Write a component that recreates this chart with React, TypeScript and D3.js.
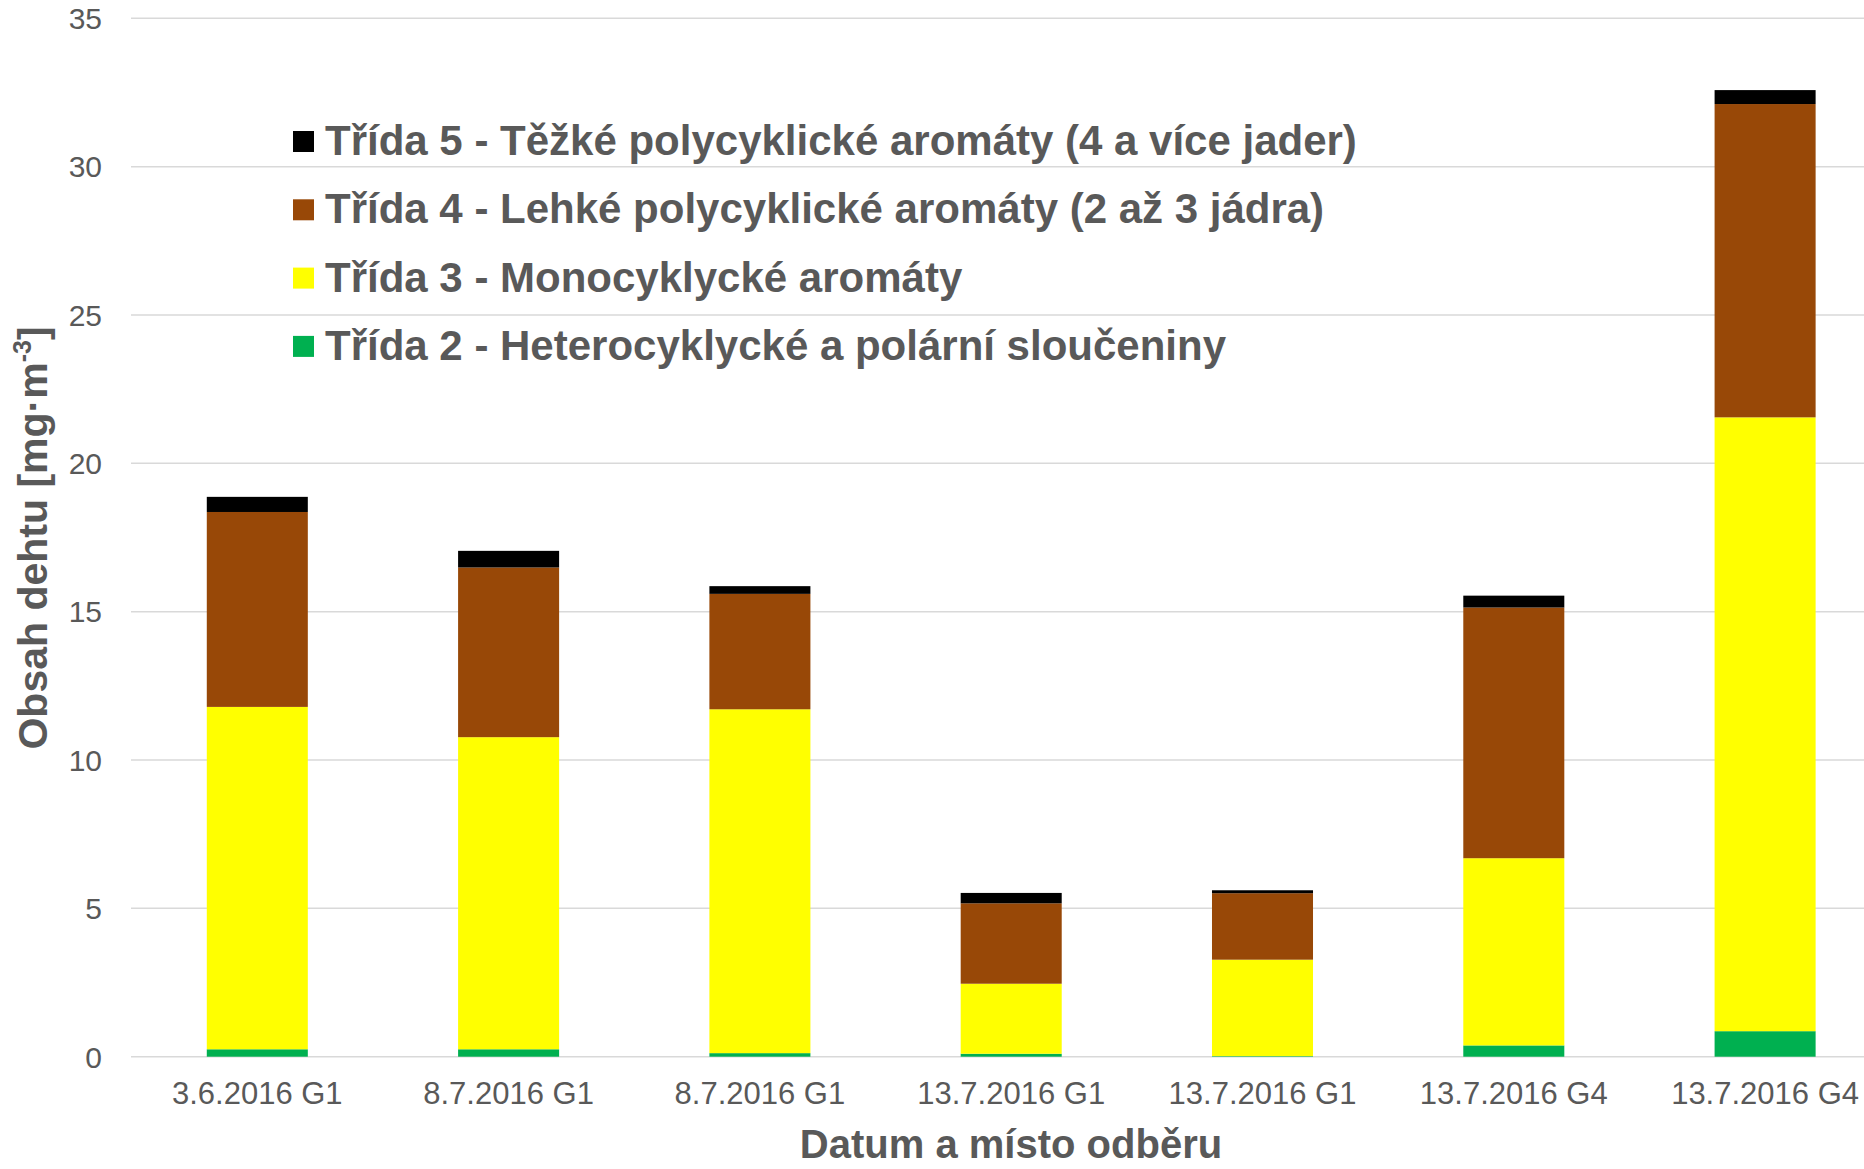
import React from "react";
import * as d3 from "d3";

const categories = [
  "3.6.2016 G1",
  "8.7.2016 G1",
  "8.7.2016 G1",
  "13.7.2016 G1",
  "13.7.2016 G1",
  "13.7.2016 G4",
  "13.7.2016 G4",
];

const trida2 = [0.25, 0.25, 0.12, 0.1, 0.02, 0.38, 0.86];
const trida3 = [11.54, 10.52, 11.59, 2.36, 3.25, 6.31, 20.69];
const trida4 = [6.57, 5.72, 3.89, 2.71, 2.24, 8.45, 10.56];
const trida5 = [0.51, 0.56, 0.26, 0.35, 0.1, 0.4, 0.47];

const yTicks = [0, 5, 10, 15, 20, 25, 30, 35];

const seriesNames = [
  "Třída 2 - Heterocyklycké a polární sloučeniny",
  "Třída 3 - Monocyklycké aromáty",
  "Třída 4 - Lehké polycyklické aromáty (2 až 3 jádra)",
  "Třída 5 - Těžké polycyklické aromáty (4 a více jader)",
];
const seriesColors = ["#00B050", "#FFFF00", "#984807", "#000000"];

const W = 1864;
const H = 1169;
const FONT = "'Liberation Sans', Arial, sans-serif";
const TEXT = "#595959";

export default function App() {
  const keys = ["t2", "t3", "t4", "t5"];
  const rows = categories.map((c, i) => ({
    idx: String(i),
    t2: trida2[i],
    t3: trida3[i],
    t4: trida4[i],
    t5: trida5[i],
  }));
  const stacked = d3.stack<any>().keys(keys)(rows);

  const x = d3
    .scaleBand<string>()
    .domain(rows.map((r) => r.idx))
    .range([131.65, 131.65 + 7 * 251.3])
    .padding(0);
  const step = x.step();
  const bw = step * 0.402;
  const y = d3.scaleLinear().domain([0, 35]).range([1056.7, 18.3]);

  const legendOrder = [3, 2, 1, 0];

  return (
    <svg
      width={W}
      height={H}
      style={{ position: "absolute", left: 0, top: 0, background: "#fff" }}
      fontFamily={FONT}
    >
      <rect x={0} y={0} width={W} height={H} fill="#fff" />
      {yTicks.map((t) => (
        <g key={t}>
          <line
            x1={131}
            x2={W}
            y1={y(t)}
            y2={y(t)}
            stroke="#D9D9D9"
            strokeWidth={1.5}
          />
          <text
            x={102}
            y={y(t)}
            dy="0.36em"
            textAnchor="end"
            fontSize={30}
            fill={TEXT}
          >
            {t}
          </text>
        </g>
      ))}
      {stacked.map((s, si) => (
        <g key={si} fill={seriesColors[si]}>
          {s.map((d, i) => (
            <rect
              key={i}
              x={(x(String(i)) as number) + (step - bw) / 2}
              width={bw}
              y={y(d[1])}
              height={Math.max(0, y(d[0]) - y(d[1]))}
            />
          ))}
        </g>
      ))}
      {categories.map((c, i) => (
        <text
          key={i}
          x={(x(String(i)) as number) + step / 2}
          y={1104}
          textAnchor="middle"
          fontSize={31}
          fill={TEXT}
        >
          {c}
        </text>
      ))}
      {legendOrder.map((si, k) => (
        <g key={si} transform={`translate(293, ${131 + k * 68.3})`}>
          <rect width={21} height={21} fill={seriesColors[si]} />
          <text
            x={32}
            y={24}
            fontSize={42}
            fontWeight="bold"
            fill={TEXT}
          >
            {seriesNames[si]}
          </text>
        </g>
      ))}
      <text
        x={1011}
        y={1158}
        textAnchor="middle"
        fontSize={40}
        fontWeight="bold"
        fill={TEXT}
      >
        Datum a místo odběru
      </text>
      <text
        transform="translate(47, 538) rotate(-90)"
        textAnchor="middle"
        fontSize={41}
        fontWeight="bold"
        fill={TEXT}
      >
        Obsah dehtu [mg·m
        <tspan fontSize={25} dy={-16}>
          -3
        </tspan>
        <tspan dy={16}>]</tspan>
      </text>
    </svg>
  );
}
